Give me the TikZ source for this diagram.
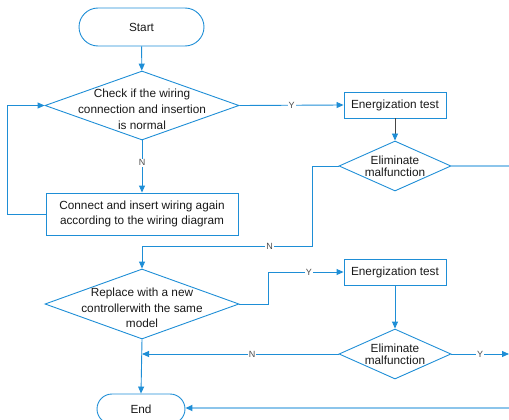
\documentclass[tikz,border=0pt]{standalone}
\usepackage{fontspec}
\setmainfont{Liberation Sans}
\usetikzlibrary{arrows.meta,positioning,shapes.geometric,shapes.misc}
\definecolor{flowblue}{RGB}{30,142,214}
\definecolor{paleblue}{RGB}{140,197,235}
\definecolor{stemgray}{RGB}{70,70,70}

\begin{document}
\begin{tikzpicture}[x=1pt,y=-1pt,
    every node/.style={font=\fontsize{11.8}{14}\selectfont, text=black!90},
    terminal/.style={rounded rectangle, draw=flowblue, line width=0.9pt, inner sep=0pt},
    process/.style={rectangle, draw=flowblue, line width=0.9pt, inner sep=2pt, align=center},
    decision/.style={diamond, draw=flowblue, line width=0.9pt, inner sep=0pt},
    flow/.style={draw=flowblue, line width=0.9pt, -{Triangle[length=7pt,width=6pt,color=flowblue]}},
    offpage/.style={draw=paleblue, line width=1.8pt},
    yn/.style={font=\fontsize{9}{10}\selectfont, fill=white, inner sep=1pt, text=black!70}]

    \useasboundingbox (0,0) rectangle (509,420);
    \clip (0,0) rectangle (509,420);

    % Left column
    \node[terminal, minimum width=125pt, minimum height=38pt] (start) at (141.5,27) {Start};
    \node[decision, minimum width=194pt, minimum height=69pt,
        label={[align=center, font=\fontsize{11.8}{16}\selectfont, yshift=-4pt]center:Check if the wiring\\connection and insertion\\is normal}] (check) at (142,105.5) {};
    \node[process, minimum width=192pt, minimum height=42pt, font=\fontsize{11.8}{14.5}\selectfont] (rewire) at (142,214)
        {Connect and insert wiring again\\according to the wiring diagram};
    \node[decision, minimum width=194pt, minimum height=70pt,
        label={[align=center, font=\fontsize{11.8}{15.5}\selectfont, yshift=-4pt]center:Replace with a new\\controllerwith the same\\model}] (replace) at (142,304) {};
    \node[terminal, minimum width=88pt, minimum height=30pt] (end) at (141,409) {End};

    % Right column
    \node[process, minimum width=102pt, minimum height=26pt] (test1) at (395,105) {Energization test};
    \node[decision, minimum width=112pt, minimum height=50pt,
        label={[align=center, font=\fontsize{11.8}{12}\selectfont]center:Eliminate\\malfunction}] (elim1) at (395,166) {};
    \node[process, minimum width=102pt, minimum height=26pt] (test2) at (395,272) {Energization test};
    \node[decision, minimum width=112pt, minimum height=50pt,
        label={[align=center, font=\fontsize{11.8}{12}\selectfont]center:Eliminate\\malfunction}] (elim2) at (395,354) {};

    % Free ends and bends
    \coordinate (out1) at (509,166);
    \coordinate (out2) at (509,354);
    \coordinate (in3) at (509,408);
    \coordinate (bendN) at (312,246);
    \coordinate (bendY) at (268,272);

    % Connectors
    \draw[flow] (start) -- (check);
    \draw[flow] (check) -- node[yn, pos=0.43] {N} (rewire);
    \draw[flow] (rewire.west) -- ++(-38,0) |- (check.west);
    \draw[flow] (check.east) -- node[yn] {Y} (test1.west);
    \draw[draw=stemgray, line width=0.9pt, -{Triangle[length=7pt,width=6pt,color=flowblue]}] (test1) -- (elim1);
    \draw[offpage] (elim1.east) -- (out1);
    \draw[flow] (elim1.west) -| (bendN) -- node[yn, pos=0.25] {N} (bendN -| replace.north) -- (replace.north);
    \draw[flow] (replace.east) -| (bendY) -- node[yn, pos=0.54] {Y} (test2.west);
    \draw[flow] (test2) -- (elim2);
    \draw[flow] (elim2.east) -- node[yn] {Y} (out2);
    \draw[flow] (elim2.west) -- node[yn, pos=0.44] {N} (elim2.west -| replace.south);
    \draw[flow] (replace.south) -- (end.north);
    \draw[offpage, -{Triangle[length=7pt,width=6pt,color=flowblue]}] (in3) -- (end.east |- in3);
\end{tikzpicture}
\end{document}
